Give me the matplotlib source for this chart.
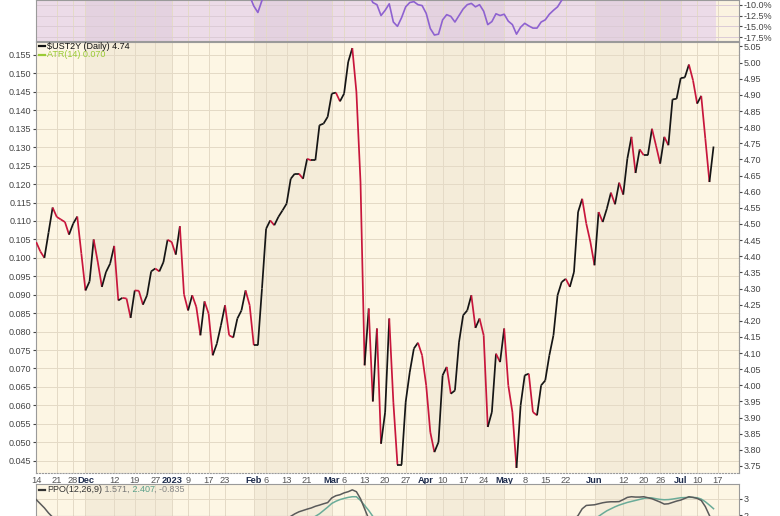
import numpy as np
import matplotlib
matplotlib.use('Agg')
import matplotlib.pyplot as plt
from matplotlib.collections import LineCollection
from matplotlib.lines import Line2D

plt.rcParams['font.family'] = ['Liberation Sans', 'DejaVu Sans']

# daily closes of $UST2Y, one per trading day from 14 Nov 2022 to 14 Jul 2023
ust2y = [4.444, 4.415, 4.395, 4.473, 4.551, 4.522, 4.514, 4.506, 4.467, 4.501,
         4.523, 4.408, 4.294, 4.322, 4.452, 4.382, 4.305, 4.351, 4.377, 4.432,
         4.263, 4.271, 4.269, 4.209, 4.294, 4.293, 4.250, 4.279, 4.353, 4.362,
         4.353, 4.382, 4.451, 4.444, 4.405, 4.493, 4.282, 4.232, 4.279, 4.243,
         4.155, 4.260, 4.222, 4.093, 4.129, 4.186, 4.248, 4.155, 4.148, 4.207,
         4.232, 4.294, 4.248, 4.124, 4.124, 4.300, 4.485, 4.511, 4.496, 4.522,
         4.542, 4.563, 4.640, 4.656, 4.656, 4.640, 4.702, 4.697, 4.697, 4.806,
         4.811, 4.832, 4.904, 4.907, 4.880, 4.904, 5.002, 5.045, 4.909, 4.630,
         4.062, 4.238, 3.950, 4.176, 3.819, 3.917, 4.207, 3.948, 3.754, 3.754,
         3.948, 4.041, 4.114, 4.132, 4.093, 4.000, 3.855, 3.793, 3.824, 4.031,
         4.057, 3.974, 3.984, 4.134, 4.217, 4.232, 4.279, 4.178, 4.207, 4.155,
         3.871, 3.917, 4.098, 4.072, 4.176, 4.000, 3.917, 3.744, 3.938, 4.031,
         4.036, 3.917, 3.907, 4.000, 4.015, 4.093, 4.155, 4.279, 4.320, 4.330,
         4.305, 4.351, 4.537, 4.578, 4.501, 4.444, 4.372, 4.537, 4.506, 4.547,
         4.597, 4.561, 4.628, 4.591, 4.702, 4.770, 4.658, 4.731, 4.713, 4.713,
         4.795, 4.742, 4.687, 4.770, 4.744, 4.886, 4.888, 4.952, 4.954, 4.994,
         4.945, 4.873, 4.897, 4.764, 4.630, 4.740]

# x axis: trading-day index of each label
tick_idx = [0, 5, 9, 12, 19, 24, 29, 33, 37, 42, 46, 53, 56, 61, 66, 72, 75, 80, 85, 90,
            95, 99, 104, 109, 114, 119, 124, 129, 136, 143, 148, 152, 157, 161, 166]
tick_lab = ['14', '21', '28', 'Dec', '12', '19', '27', '2023', '9', '17', '23', 'Feb', '6',
            '13', '21', 'Mar', '6', '13', '20', '27', 'Apr', '10', '17', '24', 'May', '8',
            '15', '22', 'Jun', '12', '20', '26', 'Jul', '10', '17']
month_lab = ['Dec', '2023', 'Feb', 'Mar', 'Apr', 'May', 'Jun', 'Jul']

# top panel (% change indicator), only the part that shows in the crop
roc_a_start = 52
roc_a = [-8.0, -10.3, -11.8, -9.0, -7.0]
roc_b_start = 81
roc_b = [-7.5, -9.5, -10.0, -12.5, -11.3, -9.8, -14.0, -15.0, -13.0, -10.5,
         -9.5, -9.3, -10.0, -10.2, -12.0, -15.5, -17.0, -16.8, -13.5, -12.3,
         -12.7, -14.0, -12.5, -11.0, -10.0, -9.7, -10.5, -10.0, -11.5, -14.6,
         -13.9, -12.1, -12.5, -12.2, -13.8, -14.6, -16.8, -15.2, -14.3, -14.9,
         -15.4, -15.4, -14.0, -13.5, -12.2, -11.3, -10.5, -9.0, -7.5]

# bottom panel PPO(12,26,9), visible parts
ppo_a_start = 0
ppo_a = [2.95, 2.7, 2.45, 2.15, 1.9]
ppo_b_start = 62
ppo_b = [1.95, 2.1, 2.22, 2.3, 2.38, 2.45, 2.55, 2.62, 2.7, 2.77,
         3.05, 3.18, 3.24, 3.35, 3.42, 3.53, 3.42, 3.0, 2.4, 1.8]
sig_b_start = 68
sig_b = [1.95, 2.1, 2.3, 2.5, 2.72, 2.85, 2.95, 3.02, 3.08, 3.12, 3.12, 2.9, 2.6, 2.3, 1.95]
ppo_c_start = 131
ppo_c = [1.75, 2.0, 2.4, 2.6, 2.62, 2.64, 2.7, 2.76, 2.8, 2.82, 2.82, 2.83, 2.95, 3.08,
         3.12, 3.1, 3.1, 3.12, 3.06, 3.0, 2.9, 2.8, 2.68, 2.7, 2.78, 2.86, 2.92, 3.02,
         3.12, 3.08, 3.02, 2.9, 2.53, 2.0, 1.571]
sig_c_start = 136
sig_c = [1.8, 1.95, 2.12, 2.28, 2.4, 2.52, 2.62, 2.7, 2.78, 2.84, 2.9, 2.96, 3.02, 3.06,
         3.05, 3.0, 2.96, 2.94, 2.95, 2.98, 3.02, 3.06, 3.07, 3.08, 3.08, 3.06, 2.98,
         2.82, 2.62, 2.407]

W, H = 780, 516
LIGHT = '#fdf6e4'
DARK = '#f4ecd9'
GRID = '#e4dac6'
XMAX = 171.2


def fx(px):
	return px / W


def fy(px):
	return 1 - px / H


def bands(ax, light, dark):
	starts = [t for t, l in zip(tick_idx, tick_lab) if l in month_lab]
	edges = [-1] + starts + [XMAX + 1]
	for k in range(len(edges) - 1):
		c = dark if k % 2 == 1 else light
		ax.axvspan(edges[k], edges[k + 1], color=c, lw=0, zorder=0)


def vgrid(ax):
	for t in tick_idx:
		ax.axvline(t, color=GRID, lw=0.7, zorder=1)


def style(ax):
	for s in ax.spines.values():
		s.set_color('#9a9a9a')
		s.set_linewidth(0.8)
	ax.set_xlim(-0.05, XMAX)
	ax.set_xticks([])


def dash(fig, x, y, color):
	fig.add_artist(Line2D([fx(x), fx(x + 6)], [fy(y), fy(y)], color=color, lw=1.6,
	                      transform=fig.transFigure))


def main():
	fig = plt.figure(figsize=(W / 100, H / 100), dpi=100)
	fig.patch.set_facecolor('white')
	L, R = 36, 739

	# ---- top panel
	axt = fig.add_axes([fx(L), fy(41), fx(R - L), 41 / H])
	bands(axt, '#ecdbe8', '#e4d2e0')
	axt.axvspan(165.5, XMAX + 1, color='#fbf3e1', lw=0, zorder=0)
	vgrid(axt)
	axt.set_ylim(-18.38, -8.92)
	for v in [-10, -12.5, -15, -17.5]:
		axt.axhline(v, color='#dccbd6', lw=0.7, zorder=1)
	xa = np.arange(roc_a_start, roc_a_start + len(roc_a))
	xb = np.arange(roc_b_start, roc_b_start + len(roc_b))
	axt.plot(xa, roc_a, color='#8e62d0', lw=1.2, zorder=3)
	axt.plot(xb, roc_b, color='#8e62d0', lw=1.2, zorder=3)
	style(axt)
	axt.yaxis.tick_right()
	axt.set_yticks([-10, -12.5, -15, -17.5])
	axt.set_yticklabels(['-10.0%', '-12.5%', '-15.0%', '-17.5%'])
	axt.tick_params(axis='y', labelsize=6.5, colors='#444', length=2.5, pad=1)

	# ---- main panel
	ax = fig.add_axes([fx(L), fy(473), fx(R - L), (473 - 42) / H])
	bands(ax, LIGHT, DARK)
	vgrid(ax)
	ax.set_ylim(0.041665, 0.15852)
	lticks = np.round(np.arange(0.045, 0.1551, 0.005), 3)
	ax.set_yticks(lticks)
	ax.set_yticklabels(['%.3f' % v for v in lticks])
	for v in lticks:
		ax.axhline(v, color=GRID, lw=0.7, zorder=1)
	ax.tick_params(axis='y', labelsize=6.5, colors='#444', length=2.5, pad=1)
	style(ax)
	ax.spines['bottom'].set_linestyle(':')
	ax.set_xticks(tick_idx)
	ax.set_xticklabels(tick_lab)
	ax.tick_params(axis='x', length=0, pad=2.2, labelsize=6.7, colors='#555')
	for lab in ax.get_xticklabels():
		if lab.get_text() in month_lab:
			lab.set_fontweight('bold')
			lab.set_color('#1e2c4c')

	ax2 = ax.twinx()
	ax2.set_ylim(3.7283, 5.0639)
	rticks = np.round(np.arange(3.75, 5.051, 0.05), 2)
	ax2.set_yticks(rticks)
	ax2.set_yticklabels(['%.2f' % v for v in rticks])
	ax2.tick_params(axis='y', labelsize=6.5, colors='#444', length=2.5, pad=1)
	for s in ax2.spines.values():
		s.set_visible(False)
	ax2.spines['right'].set_visible(True)
	ax2.spines['right'].set_color('#9a9a9a')
	ax2.spines['right'].set_linestyle(':')

	x = np.arange(len(ust2y))
	pts = np.column_stack([x, ust2y])
	segs = np.stack([pts[:-1], pts[1:]], axis=1)
	cols = ['#151515' if b >= a else '#c8163c' for a, b in zip(ust2y[:-1], ust2y[1:])]
	ax2.add_collection(LineCollection(segs, colors=cols, linewidths=1.25, zorder=3))
	ax2.set_xlim(-0.05, XMAX)

	dash(fig, 39, 46.5, '#111')
	fig.text(fx(47), fy(46.5), r'\$UST2Y (Daily) 4.74', fontsize=6.5, color='#111', va='center')
	dash(fig, 39, 54.5, '#9acb34')
	fig.text(fx(47), fy(54.5), 'ATR(14) 0.070', fontsize=6.5, color='#9acb34', va='center')

	# ---- bottom panel
	axb = fig.add_axes([fx(L), 0, fx(R - L), (516 - 484) / H])
	bands(axb, LIGHT, DARK)
	vgrid(axb)
	axb.set_ylim(1.97, 3.88)
	axb.axhline(3, color=GRID, lw=0.7, zorder=1)
	axb.plot(np.arange(sig_b_start, sig_b_start + len(sig_b)), sig_b, color='#6aab98', lw=1.1, zorder=3)
	axb.plot(np.arange(sig_c_start, sig_c_start + len(sig_c)), sig_c, color='#6aab98', lw=1.1, zorder=3)
	for st, vals in [(ppo_a_start, ppo_a), (ppo_b_start, ppo_b), (ppo_c_start, ppo_c)]:
		axb.plot(np.arange(st, st + len(vals)), vals, color='#5a5a5a', lw=1.1, zorder=4)
	style(axb)
	axb.yaxis.tick_right()
	axb.set_yticks([2, 3])
	axb.tick_params(axis='y', labelsize=6.5, colors='#444', length=2.5, pad=1)

	dash(fig, 39, 489.5, '#333')
	t = fig.text(fx(47), fy(489.5), 'PPO(12,26,9)', fontsize=6.5, color='#333', va='center')
	for txt, c in [(' 1.571,', '#777'), (' 2.407', '#5aa08a'), (', -0.835', '#888')]:
		t = axb.annotate(txt, xy=(1, 0.5), xycoords=t, va='center', ha='left', fontsize=6.5,
		                 color=c, annotation_clip=False, zorder=6)

	fig.savefig('out.png', dpi=100, facecolor='white')


if __name__ == "__main__":
	main()
